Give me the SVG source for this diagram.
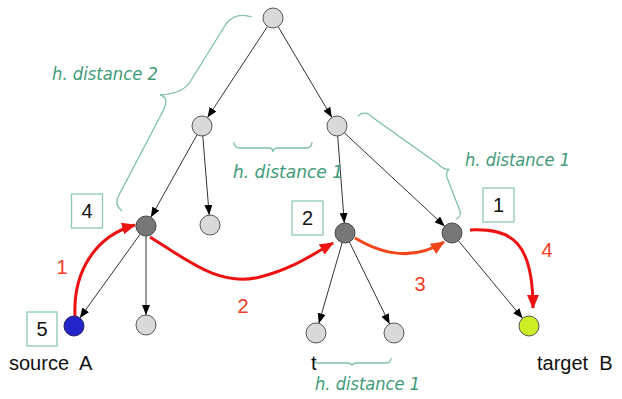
<svg xmlns="http://www.w3.org/2000/svg" width="622" height="399" viewBox="0 0 622 399">
<defs>
<style>
.edge{stroke:#333;stroke-width:1;fill:none;marker-end:url(#ah)}
.red{stroke:#ee1111;stroke-width:3;fill:none;marker-end:url(#rh)}
.org{stroke:#f2451a;stroke-width:3;fill:none;marker-end:url(#oh)}
.brace{stroke:#7fc0a6;stroke-width:1.3;fill:none}
.gtxt{font-family:"DejaVu Sans",Verdana,sans-serif;font-style:italic;font-size:18px;fill:#3d9a78}
.rtxt{font-family:"Liberation Sans",Arial,sans-serif;font-size:20px;fill:#f03c22}
.btxt{font-family:"Liberation Sans",Arial,sans-serif;font-size:20px;fill:#111}
.box{fill:#fff;stroke:#8ccab4;stroke-width:1.3}
.light{fill:#d9d9d9;stroke:#555;stroke-width:1}
.dark{fill:#777;stroke:#444;stroke-width:1}
</style>
<marker id="ah" viewBox="0 0 10 8" refX="10" refY="4" markerWidth="10" markerHeight="8" markerUnits="userSpaceOnUse" orient="auto"><path d="M0,0 L10,4 L0,8 Z" fill="#000"/></marker>
<marker id="rh" viewBox="0 0 14 12" refX="13" refY="6" markerWidth="14" markerHeight="12" markerUnits="userSpaceOnUse" orient="auto"><path d="M0,0 L14,6 L0,12 Z" fill="#ee1111"/></marker>
<marker id="oh" viewBox="0 0 14 12" refX="13" refY="6" markerWidth="14" markerHeight="12" markerUnits="userSpaceOnUse" orient="auto"><path d="M0,0 L14,6 L0,12 Z" fill="#f2451a"/></marker>
</defs>
<rect width="622" height="399" fill="#fff"/>

<g id="braces">
<path class="brace" d="M252,17 C240,13 232,16 226,24 L190,82 C185,90 175,94 160,95 C168,97 167,104 162,113 L119,195 C115,203 117,207 122,211"/>
<path class="brace" d="M234,142 Q234,148 240,148 L268,148 Q273,148 273,152 Q273,148 278,148 L306,148 Q312,148 312,142"/>
<path class="brace" d="M358,116 C362,112 368,112 372,117 L438,164 C442,168 446,170 449,169 C446,172 446,176 448,180 L460,211 C461,215 459,218 456,219"/>
<path class="brace" d="M313,358 Q313,363 318,363 L347,363 Q352,363 352,366 Q352,363 357,363 L386,363 Q391,363 391,358"/>
</g>

<g id="connectors">
<line class="edge" x1="267.5" y1="26.4" x2="207.5" y2="117.6"/>
<line class="edge" x1="278.1" y1="26.6" x2="331.9" y2="117.4"/>
<line class="edge" x1="197.1" y1="134.7" x2="150.9" y2="217.3"/>
<line class="edge" x1="202.8" y1="136" x2="209.2" y2="215"/>
<line class="edge" x1="337.7" y1="136" x2="344.3" y2="223"/>
<line class="edge" x1="344.3" y1="132.8" x2="444.7" y2="226.2"/>
<line class="edge" x1="140.2" y1="234.1" x2="79.8" y2="317.9"/>
<line class="edge" x1="146" y1="236" x2="146" y2="315"/>
<line class="edge" x1="342.2" y1="242.6" x2="318.8" y2="323.4"/>
<line class="edge" x1="349.4" y1="242" x2="389.6" y2="324"/>
<line class="edge" x1="458.4" y1="240.7" x2="522.6" y2="318.3"/>
<path class="red" d="M75,316 C73,272 95,236 135,225"/>
<path class="red" d="M150,237 C190,262 220,287 260,277 C292,269 312,255 333,243"/>
<path class="org" d="M355,238 C385,256 415,260 444,242"/>
<path class="red" d="M470,230 C512,228 533,242 533,308"/>
</g>

<g id="node-root"><circle class="light" cx="273" cy="18" r="10"/></g>
<g id="node-l"><circle class="light" cx="202" cy="126" r="10"/></g>
<g id="node-r"><circle class="light" cx="337" cy="126" r="10"/></g>
<g id="node-4"><circle class="dark" cx="146" cy="226" r="10"/></g>
<g id="node-ll2"><circle class="light" cx="210" cy="225" r="10"/></g>
<g id="node-2"><circle class="dark" cx="345" cy="233" r="10"/></g>
<g id="node-1"><circle class="dark" cx="452" cy="233" r="10"/></g>
<g id="node-a"><circle cx="74" cy="326" r="10" fill="#2424c8" stroke="#222266" stroke-width="1"/></g>
<g id="node-4b"><circle class="light" cx="146" cy="325" r="10"/></g>
<g id="node-t"><circle class="light" cx="316" cy="333" r="10"/></g>
<g id="node-t2"><circle class="light" cx="394" cy="333" r="10"/></g>
<g id="node-b"><circle cx="529" cy="326" r="10" fill="#ccee22" stroke="#555" stroke-width="1"/></g>

<g id="box-4"><rect class="box" x="71.5" y="194" width="31" height="34"/><text class="btxt" x="87" y="218" text-anchor="middle">4</text></g>
<g id="box-5"><rect class="box" x="27" y="312" width="30" height="34"/><text class="btxt" x="42" y="336" text-anchor="middle">5</text></g>
<g id="box-2"><rect class="box" x="292" y="201" width="31" height="34"/><text class="btxt" x="307.5" y="225" text-anchor="middle">2</text></g>
<g id="box-1"><rect class="box" x="483" y="188" width="31" height="34"/><text class="btxt" x="498.5" y="212" text-anchor="middle">1</text></g>

<g id="labels">
<text class="gtxt" x="52" y="80" textLength="106" lengthAdjust="spacingAndGlyphs">h. distance 2</text>
<text class="gtxt" x="233" y="178" textLength="110" lengthAdjust="spacingAndGlyphs">h. distance 1</text>
<text class="gtxt" x="465" y="166" textLength="105" lengthAdjust="spacingAndGlyphs">h. distance 1</text>
<text class="gtxt" x="315" y="390" textLength="105" lengthAdjust="spacingAndGlyphs">h. distance 1</text>
<text class="rtxt" x="62" y="274" text-anchor="middle">1</text>
<text class="rtxt" x="243" y="313" text-anchor="middle">2</text>
<text class="rtxt" x="420" y="291" text-anchor="middle">3</text>
<text class="rtxt" x="547" y="257" text-anchor="middle">4</text>
<text class="btxt" x="9" y="370" xml:space="preserve">source  A</text>
<text class="btxt" x="311" y="370">t</text>
<text class="btxt" x="537" y="370" xml:space="preserve">target  B</text>
</g>
</svg>
